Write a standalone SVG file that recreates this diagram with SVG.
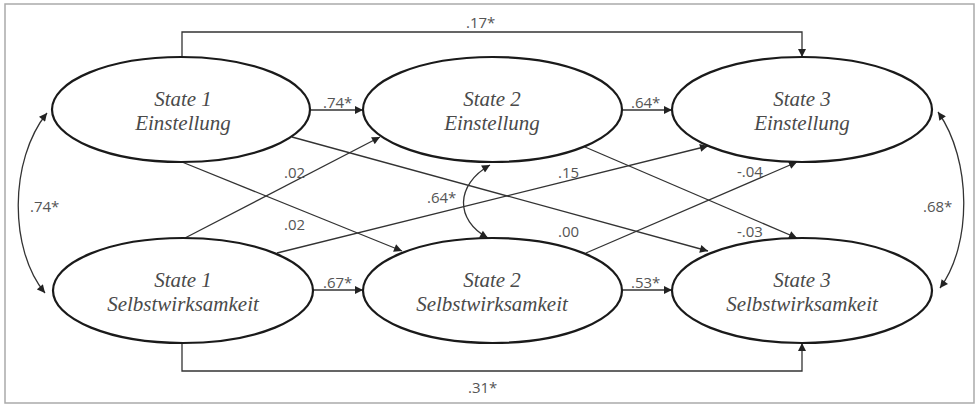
<svg xmlns="http://www.w3.org/2000/svg" width="980" height="408" viewBox="0 0 980 408">
<style>
.node ellipse{fill:#fff;stroke:#1a1a1a;stroke-width:2.2}
.node text{font-family:"Liberation Serif","Times New Roman",serif;font-style:italic;font-size:21px;fill:#4a4a4a;text-anchor:middle}
.edge{fill:none;stroke:#333;stroke-width:1.3}
.lbl{font-family:"Open Sans","Liberation Sans",sans-serif;font-size:15px;fill:#555}
</style>
<defs>
<marker id="ah" viewBox="0 0 10 10" refX="10" refY="5" markerWidth="9" markerHeight="8" markerUnits="userSpaceOnUse" orient="auto-start-reverse">
<path d="M0,0 L10,5 L0,10 Z" fill="#222"/>
</marker>
</defs>
<rect x="5" y="4" width="969" height="399" fill="#fff" stroke="#aaa" stroke-width="1.5"/>
<g id="connectors">
<path class="edge" d="M182,57 V32 H802 V57" marker-end="url(#ah)"/>
<path class="edge" d="M182,343 V371 H802 V343" marker-end="url(#ah)"/>
<path class="edge" d="M311,110 H363" marker-end="url(#ah)"/>
<path class="edge" d="M622,110 H672" marker-end="url(#ah)"/>
<path class="edge" d="M313,290 H363" marker-end="url(#ah)"/>
<path class="edge" d="M622,290 H672" marker-end="url(#ah)"/>
<path class="edge" d="M182,162 L402,251" marker-end="url(#ah)"/>
<path class="edge" d="M185,238 L380,137" marker-end="url(#ah)"/>
<path class="edge" d="M292,137 L708,251" marker-end="url(#ah)"/>
<path class="edge" d="M277,253 L708,146" marker-end="url(#ah)"/>
<path class="edge" d="M585,147 L797,238" marker-end="url(#ah)"/>
<path class="edge" d="M586,253 L797,162" marker-end="url(#ah)"/>
<path class="edge" d="M490,165 C455,185 455,220 488,238" marker-start="url(#ah)" marker-end="url(#ah)"/>
<path class="edge" d="M47,113 C9,160 9,250 45,293" marker-start="url(#ah)" marker-end="url(#ah)"/>
<path class="edge" d="M938,112 C972,160 972,245 940,288" marker-start="url(#ah)" marker-end="url(#ah)"/>
</g>
<g id="labels">
<text class="lbl" x="466" y="28">.17*</text>
<text class="lbl" x="468" y="393">.31*</text>
<text class="lbl" x="323" y="108">.74*</text>
<text class="lbl" x="631" y="108">.64*</text>
<text class="lbl" x="323" y="288">.67*</text>
<text class="lbl" x="631" y="288">.53*</text>
<text class="lbl" x="284" y="178">.02</text>
<text class="lbl" x="284" y="230">.02</text>
<text class="lbl" x="427" y="203">.64*</text>
<text class="lbl" x="558" y="178">.15</text>
<text class="lbl" x="558" y="237">.00</text>
<text class="lbl" x="737" y="177">-.04</text>
<text class="lbl" x="737" y="237">-.03</text>
<text class="lbl" x="30" y="212">.74*</text>
<text class="lbl" x="923" y="212">.68*</text>
</g>
<g id="s1e" class="node"><ellipse cx="181" cy="109.5" rx="129" ry="52.5"/><text x="183" y="106">State 1</text><text x="183" y="130">Einstellung</text></g>
<g id="s2e" class="node"><ellipse cx="492.5" cy="109.5" rx="129.5" ry="52.5"/><text x="492" y="106">State 2</text><text x="492" y="130">Einstellung</text></g>
<g id="s3e" class="node"><ellipse cx="802" cy="109.5" rx="130" ry="52.5"/><text x="802" y="106">State 3</text><text x="802" y="130">Einstellung</text></g>
<g id="s1s" class="node"><ellipse cx="183" cy="290.5" rx="130" ry="52.5"/><text x="183" y="287">State 1</text><text x="183" y="311">Selbstwirksamkeit</text></g>
<g id="s2s" class="node"><ellipse cx="492.5" cy="290.5" rx="129.5" ry="52.5"/><text x="492" y="287">State 2</text><text x="492" y="311">Selbstwirksamkeit</text></g>
<g id="s3s" class="node"><ellipse cx="802" cy="290.5" rx="130" ry="52.5"/><text x="802" y="287">State 3</text><text x="802" y="311">Selbstwirksamkeit</text></g>
</svg>
